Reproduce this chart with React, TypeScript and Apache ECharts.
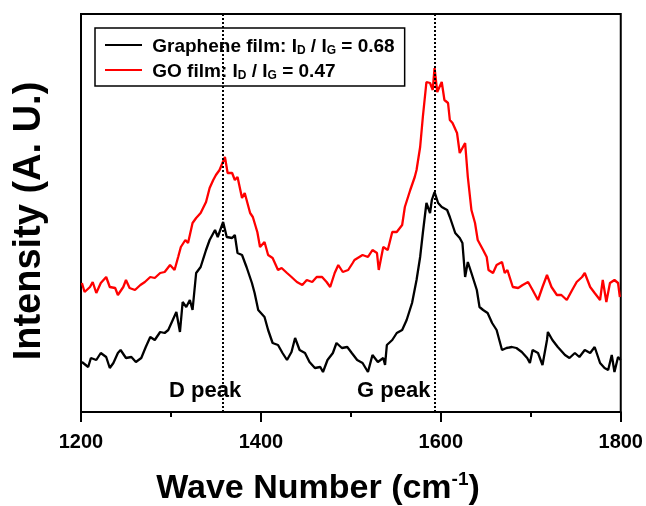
import React, { useEffect, useRef } from "react";
import * as echarts from "echarts";

const FONT = "'Liberation Sans', Arial, sans-serif";

const xTicks = [1200, 1400, 1600, 1800];
const peakPositions = [1358, 1593];
const peakLabels = ["D peak", "G peak"];
const seriesNames = ["Graphene film", "GO film"];

const grapheneX = [1201,1208,1211,1217,1222,1228,1232,1236,1241,1244,1250,1256,1261,1267,1272,1277,1282,1288,1293,1297,1302,1306,1310,1313,1317,1321,1324,1328,1333,1339,1343,1349,1352,1358,1362,1368,1371,1374,1379,1384,1390,1393,1397,1404,1408,1413,1419,1424,1429,1434,1438,1443,1449,1454,1460,1466,1469,1474,1480,1484,1490,1496,1501,1507,1513,1519,1524,1530,1536,1538,1540,1546,1551,1557,1562,1568,1573,1577,1580,1584,1588,1590,1593,1597,1601,1607,1610,1616,1621,1624,1627,1630,1634,1640,1643,1647,1652,1657,1662,1668,1673,1679,1684,1690,1696,1699,1702,1708,1713,1718,1719,1724,1730,1738,1743,1749,1754,1760,1766,1771,1777,1782,1786,1790,1793,1797,1800];
const grapheneY = [50,45,54,52,59,55,44,49,59,62,54,55,50,54,65,75,72,80,79,82,92,100,80,110,105,112,102,139,145,162,172,182,175,190,175,174,177,159,157,145,129,119,102,95,82,69,67,59,52,60,74,62,59,50,44,45,40,52,59,69,64,65,59,52,49,40,57,50,54,47,67,72,79,82,92,109,132,155,179,209,199,212,220,209,205,202,195,179,174,169,135,150,139,122,105,102,99,89,82,62,64,65,64,60,54,49,62,59,47,72,80,72,65,57,54,59,55,62,59,65,49,44,42,57,40,55,52];

const goX = [1201,1204,1210,1213,1217,1222,1228,1232,1238,1241,1247,1250,1254,1260,1266,1271,1277,1282,1288,1293,1299,1304,1308,1311,1316,1319,1324,1328,1333,1339,1343,1347,1350,1354,1360,1363,1368,1371,1374,1379,1382,1388,1391,1396,1399,1404,1408,1413,1419,1423,1429,1434,1440,1446,1451,1457,1462,1468,1473,1477,1482,1486,1491,1497,1502,1504,1513,1519,1524,1529,1531,1536,1541,1546,1551,1557,1560,1566,1571,1573,1577,1580,1584,1588,1591,1593,1596,1601,1604,1608,1610,1613,1618,1621,1627,1630,1634,1638,1641,1647,1651,1653,1658,1662,1668,1671,1674,1680,1686,1691,1697,1702,1708,1713,1718,1723,1729,1734,1740,1746,1751,1757,1760,1766,1771,1777,1780,1784,1788,1793,1797,1799];
const goY = [129,120,125,130,119,129,135,125,124,117,125,132,124,122,127,130,135,134,139,140,147,142,155,165,172,169,189,194,199,210,224,232,237,242,255,239,239,232,235,214,219,199,195,180,165,170,157,154,142,144,139,135,130,127,132,130,135,135,130,125,139,147,140,142,149,152,157,155,162,159,142,165,162,180,180,187,205,222,235,242,265,295,330,329,322,344,320,330,312,309,292,289,279,259,269,235,202,189,172,162,155,142,139,147,150,139,142,125,124,127,130,122,112,125,137,125,117,117,112,122,130,135,139,125,119,112,132,110,129,132,129,115];

const zip = (xs: number[], ys: number[]) => xs.map((x, i) => [x, ys[i]]);

export default function App() {
  const ref = useRef<HTMLDivElement>(null);
  useEffect(() => {
    if (!ref.current) return;
    const chart = echarts.init(ref.current, undefined, { renderer: "svg" });
    const legendText: Record<string, string> = {
      "Graphene film": "{n| Graphene film: I}{s|D}{n| / I}{s|G}{n| = 0.68}",
      "GO film": "{n| GO film: I}{s|D}{n| / I}{s|G}{n| = 0.47}",
    };
    chart.setOption({
      animation: false,
      grid: {
        left: 81,
        right: 25,
        top: 14,
        bottom: 94,
        show: true,
        borderColor: "#000",
        borderWidth: 2,
        backgroundColor: "transparent",
      },
      legend: {
        orient: "vertical",
        left: 95,
        top: 28,
        data: seriesNames,
        icon: "rect",
        itemWidth: 37,
        itemHeight: 2,
        itemGap: 3,
        padding: [6, 10, 5, 10],
        borderColor: "#000",
        borderWidth: 1.5,
        backgroundColor: "#fff",
        formatter: (name: string) => legendText[name],
        textStyle: {
          color: "#000",
          rich: {
            n: { fontSize: 19, fontWeight: "bold", fontFamily: FONT, color: "#000", lineHeight: 20 },
            s: { fontSize: 12, fontWeight: "bold", fontFamily: FONT, color: "#000", lineHeight: 20, padding: [10, 0, 0, 0] },
          },
        },
      },
      xAxis: {
        type: "value",
        min: 1200,
        max: 1800,
        interval: 200,
        axisLine: { show: true, lineStyle: { color: "#000", width: 2 } },
        axisTick: { show: true, inside: false, length: 10, lineStyle: { color: "#000", width: 2 } },
        minorTick: { show: true, splitNumber: 2, length: 5, lineStyle: { color: "#000", width: 2 } },
        splitLine: { show: false },
        axisLabel: {
          color: "#000",
          fontSize: 20,
          fontWeight: "bold",
          fontFamily: FONT,
          margin: 19,
          formatter: (v: number) => (xTicks.includes(v) ? String(v) : ""),
        },
      },
      yAxis: {
        type: "value",
        min: 0,
        max: 398,
        axisLine: { show: true, lineStyle: { color: "#000", width: 2 } },
        axisTick: { show: false },
        axisLabel: { show: false },
        splitLine: { show: false },
      },
      series: [
        {
          name: seriesNames[0],
          type: "line",
          data: zip(grapheneX, grapheneY),
          symbol: "none",
          showSymbol: false,
          lineStyle: { color: "#000", width: 2.3 },
          itemStyle: { color: "#000" },
          z: 3,
          markLine: {
            silent: true,
            symbol: ["none", "none"],
            label: { show: false },
            lineStyle: { color: "#000", width: 2, type: [2, 2] },
            data: peakPositions.map((p) => ({ xAxis: p })),
          },
        },
        {
          name: seriesNames[1],
          type: "line",
          data: zip(goX, goY),
          symbol: "none",
          showSymbol: false,
          lineStyle: { color: "#ff0000", width: 2.3 },
          itemStyle: { color: "#ff0000" },
          z: 2,
        },
      ],
      graphic: [
        {
          type: "text",
          left: 169,
          top: 378,
          style: { text: peakLabels[0], fontSize: 22, fontWeight: "bold", fontFamily: FONT, fill: "#000" },
        },
        {
          type: "text",
          left: 357,
          top: 378,
          style: { text: peakLabels[1], fontSize: 22, fontWeight: "bold", fontFamily: FONT, fill: "#000" },
        },
        {
          type: "text",
          x: 27,
          y: 221,
          rotation: Math.PI / 2,
          style: {
            text: "Intensity (A. U.)",
            fontSize: 38,
            fontWeight: "bold",
            fontFamily: FONT,
            fill: "#000",
            align: "center",
            verticalAlign: "middle",
          },
        },
        {
          type: "text",
          x: 318,
          y: 486,
          style: {
            text: "{t|Wave Number (cm}{u|-1}{t|)}",
            align: "center",
            verticalAlign: "middle",
            rich: {
              t: { fontSize: 34, fontWeight: "bold", fontFamily: FONT, fill: "#000", lineHeight: 30 },
              u: { fontSize: 19, fontWeight: "bold", fontFamily: FONT, fill: "#000", lineHeight: 30, padding: [0, 0, 16, 0] },
            },
          },
        },
      ],
    });
    return () => chart.dispose();
  }, []);
  return <div ref={ref} style={{ position: "fixed", left: 0, top: 0, width: 646, height: 506 }} />;
}
